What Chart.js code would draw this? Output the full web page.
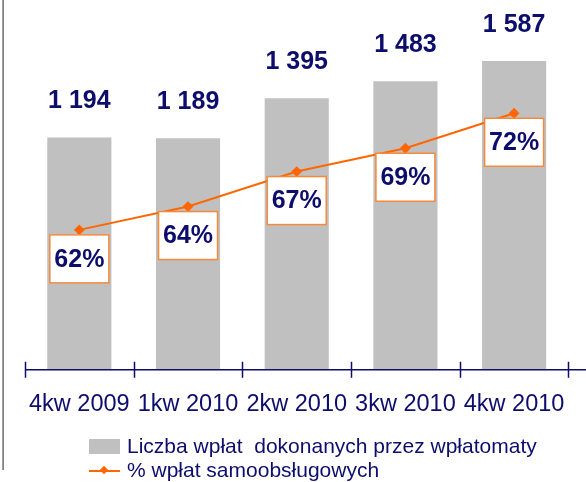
<!DOCTYPE html>
<html>
<head>
<meta charset="utf-8">
<script src="https://cdn.jsdelivr.net/npm/chart.js@4.4.0/dist/chart.umd.min.js"></script>
<style>
    body { margin: 0; background: #fff; font-family: "Liberation Sans", Arial, sans-serif; }
    #wrap { position: relative; width: 586px; height: 482px; overflow: hidden; }
    #edge { position: absolute; left: 2px; top: 0; width: 2px; height: 470px; background: linear-gradient(to right, #b0b0b0, #707070); }
    #chart { position: absolute; left: 0; top: 0; }
    #legend { position: absolute; left: 89px; top: 434px; color: #0d0d6b; font-size: 21px; line-height: 24px; }
    .item { display: flex; align-items: center; white-space: pre; }
    .swatch { width: 31px; height: 15px; margin-right: 7px; position: relative; }
</style>
</head>
<body>
<div id="wrap">
    <div id="edge"></div>
    <canvas id="chart" width="586" height="440"></canvas>
    <div id="legend"></div>
</div>
<script>
document.addEventListener("DOMContentLoaded", function () {
    // data
    const categories = ["4kw 2009", "1kw 2010", "2kw 2010", "3kw 2010", "4kw 2010"];
    const depositCounts = [1194, 1189, 1395, 1483, 1587];
    const selfServiceShare = [62, 64, 67, 69, 72];
    const seriesNames = ["Liczba wpłat  dokonanych przez wpłatomaty", "% wpłat samoobsługowych"];

    const navy = "#0d0d6b";
    const orange = "#ff6600";

    // "1194" -> "1 194"
    function formatCount(v) {
        return String(v).replace(/\B(?=(\d{3})+(?!\d))/g, " ");
    }

    // draws the value labels, the boxed percentages and the x axis with ticks
    const labelPlugin = {
        id: "labels",
        afterDatasetsDraw(chart) {
            const ctx = chart.ctx;
            ctx.save();
            ctx.textAlign = "center";
            ctx.textBaseline = "middle";

            // bar values
            ctx.fillStyle = navy;
            ctx.font = "bold 25px 'Liberation Sans', Arial, sans-serif";
            chart.getDatasetMeta(0).data.forEach((bar, i) => {
                ctx.fillText(formatCount(depositCounts[i]), bar.x, bar.y - 36);
            });

            // percentage boxes
            chart.getDatasetMeta(1).data.forEach((pt, i) => {
                const w = 59, h = 48;
                const left = pt.x - w / 2, top = pt.y + 5;
                ctx.fillStyle = "#ffffff";
                ctx.fillRect(left, top, w, h);
                ctx.strokeStyle = "#f58a3c";
                ctx.lineWidth = 1.5;
                ctx.strokeRect(left, top, w, h);
                ctx.fillStyle = navy;
                ctx.font = "bold 25px 'Liberation Sans', Arial, sans-serif";
                ctx.fillText(selfServiceShare[i] + "%", pt.x, top + h / 2 + 1);
            });
            ctx.restore();
        },
        afterDraw(chart) {
            const ctx = chart.ctx;
            const area = chart.chartArea;
            const step = (area.right - area.left) / categories.length;
            ctx.save();
            ctx.strokeStyle = navy;
            ctx.lineWidth = 1.5;
            ctx.beginPath();
            ctx.moveTo(area.left, area.bottom);
            ctx.lineTo(chart.width, area.bottom);
            for (let i = 0; i <= categories.length; i++) {
                const x = Math.round(area.left + i * step) + 0.5;
                ctx.moveTo(x, area.bottom - 8);
                ctx.lineTo(x, area.bottom + 8);
            }
            ctx.stroke();
            ctx.restore();
        },
    };

    const ctx = document.getElementById("chart").getContext("2d");
    const chart = new Chart(ctx, {
        type: "bar",
        data: {
            labels: categories,
            datasets: [
                {
                    label: seriesNames[0],
                    data: depositCounts,
                    backgroundColor: "#c0c0c0",
                    yAxisID: "y",
                    order: 2,
                    barPercentage: 0.59,
                    categoryPercentage: 1,
                },
                {
                    label: seriesNames[1],
                    type: "line",
                    data: selfServiceShare,
                    borderColor: orange,
                    borderWidth: 2,
                    pointStyle: "rectRot",
                    pointRadius: 4,
                    pointBackgroundColor: orange,
                    pointBorderColor: orange,
                    yAxisID: "y1",
                    order: 1,
                },
            ],
        },
        options: {
            responsive: false,
            animation: false,
            layout: { padding: { left: 25, right: 1, top: 0, bottom: 0 } },
            plugins: {
                legend: { display: false },
                tooltip: { enabled: false },
            },
            scales: {
                x: {
                    grid: { display: false, drawTicks: false },
                    border: { display: false },
                    ticks: {
                        color: navy,
                        padding: 21,
                        font: { family: "'Liberation Sans', Arial, sans-serif", size: 23.5 },
                    },
                },
                y: { display: false, min: 0, max: 1869 },
                y1: { display: false, min: 50, max: 81.2 },
            },
        },
        plugins: [labelPlugin],
    });

    // legend built from the chart's datasets
    const legend = document.getElementById("legend");
    chart.data.datasets.forEach((ds, i) => {
        const item = document.createElement("div");
        item.className = "item";
        const sw = document.createElement("span");
        sw.className = "swatch";
        if (i === 0) {
            sw.style.background = ds.backgroundColor;
        } else {
            sw.innerHTML = '<span style="position:absolute;left:0;top:7px;width:31px;height:2px;background:' + orange + '"></span>' +
                '<span style="position:absolute;left:12px;top:4px;width:6px;height:6px;background:' + orange + ';transform:rotate(45deg)"></span>';
        }
        const txt = document.createElement("span");
        txt.textContent = ds.label;
        item.appendChild(sw);
        item.appendChild(txt);
        legend.appendChild(item);
    });
});
</script>
</body>
</html>
